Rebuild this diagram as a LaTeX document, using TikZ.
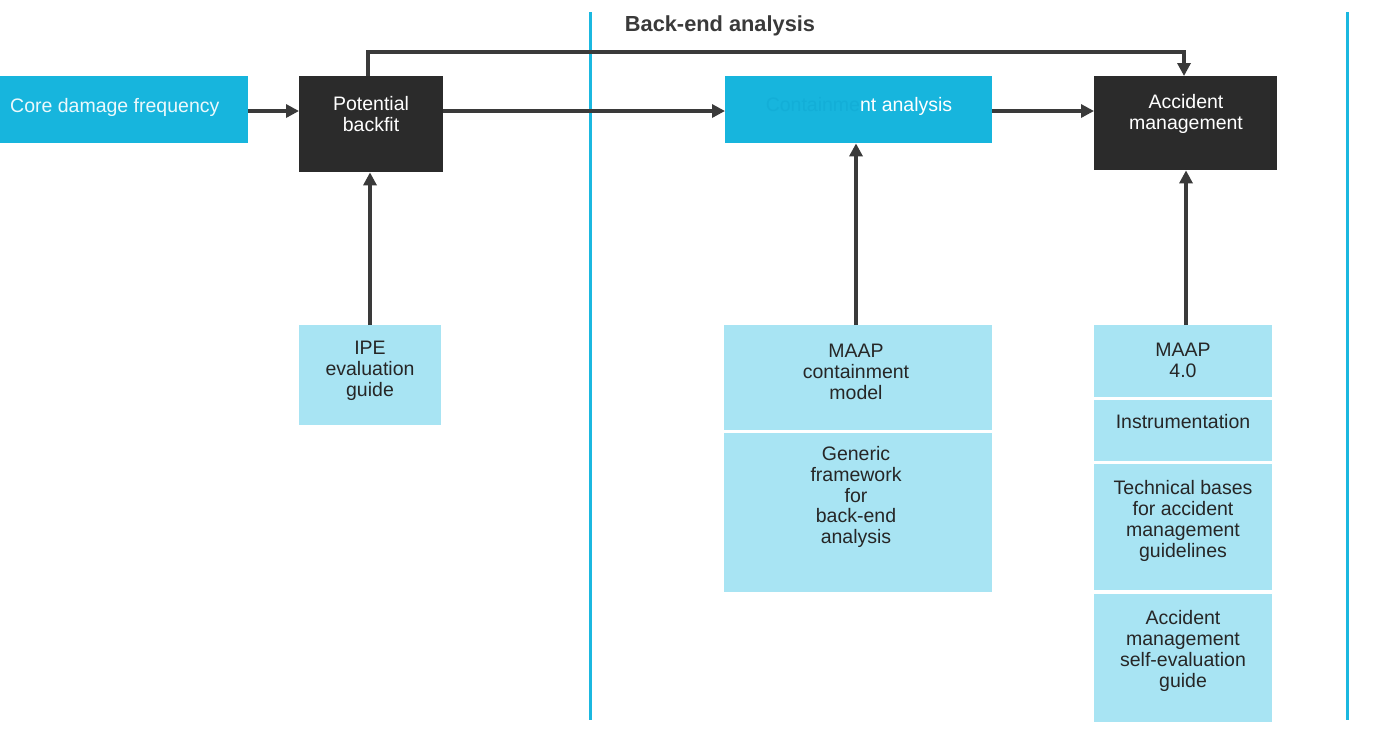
\documentclass[tikz,border=0pt]{standalone}
\usepackage{fontspec}
\setmainfont{Liberation Sans}
\usetikzlibrary{arrows.meta}
\definecolor{cyanbox}{HTML}{17B5DD}
\definecolor{paleblue}{HTML}{A8E4F3}
\definecolor{darkbox}{HTML}{2B2B2B}
\definecolor{wire}{HTML}{3A3A3A}
\definecolor{rule}{HTML}{1BB8E0}
\definecolor{fadedtext}{HTML}{13AED7}
\tikzset{
  x=1pt, y=-1pt,
  every node/.style={font=\fontsize{19.5}{20.8}\selectfont, align=center, inner sep=0pt},
  blockc/.style={fill=cyanbox, draw=none, text=white},
  blockd/.style={fill=darkbox, draw=none, text=white},
  blockp/.style={fill=paleblue, draw=none, text=black!85},
  txt/.style={text=black!85},
  flow/.style={draw=wire, line width=3.2pt, -{Triangle[length=13pt,width=13pt]}},
  divider/.style={draw=rule, line width=3pt},
}
\newcommand{\boxat}[6]{% name, style, x1, y1, x2, y2
  \node[#2, minimum width=#5-#3, minimum height=#6-#4, anchor=north west] (#1) at (#3,#4) {};}
\begin{document}
\begin{tikzpicture}
\fill[white] (0,0) rectangle (1396,748);
\useasboundingbox (0,0) rectangle (1396,748);

% section dividers and heading
\draw[divider] (590,12) -- (590,720);
\draw[divider] (1347,12) -- (1347,720);
\node[font=\fontsize{21.8}{23}\selectfont\bfseries, text=wire] (head) at (720,26) {Back-end analysis};

% top row blocks
\boxat{cdf}{blockc}{0}{76}{248}{143}
\node[text=white!92!cyanbox, anchor=west] (cdft) at (10,107) {Core damage frequency};
\boxat{pb}{blockd}{299}{76}{443}{172}
\node[text=white] (pbt) at (371,114) {Potential\\backfit};
\boxat{ca}{blockc}{725}{76}{992}{143}
\node (cat) at (859,106) {\textcolor{fadedtext}{Containme}\textcolor{white}{nt analysis}};
\boxat{am}{blockd}{1094}{76}{1277}{170}
\node[text=white] (amt) at (1186,114) {Accident\\management};

% supporting blocks
\boxat{ipe}{blockp}{299}{325}{441}{425}
\node[txt] (ipet) at (370,371) {IPE\\evaluation\\guide};
\boxat{maap}{blockp}{724}{325}{992}{430}
\node[txt] (maapt) at (856,372) {MAAP\\containment\\model};
\boxat{gen}{blockp}{724}{433}{992}{592}
\node[txt] (gent) at (856,497) {Generic\\framework\\for\\back-end\\analysis};
\boxat{m40}{blockp}{1094}{325}{1272}{397}
\node[txt] (m40t) at (1183,360) {MAAP\\4.0};
\boxat{ins}{blockp}{1094}{400}{1272}{461}
\node[txt] (inst) at (1183,422) {Instrumentation};
\boxat{tech}{blockp}{1094}{464}{1272}{590}
\node[txt] (techt) at (1183,521) {Technical bases\\for accident\\management\\guidelines};
\boxat{self}{blockp}{1094}{594}{1272}{722}
\node[txt] (selft) at (1183,651) {Accident\\management\\self-evaluation\\guide};

% connectors
\draw[flow] (cdf.east |- 0,111) -- (pb.west |- 0,111);
\draw[flow] (pb.east |- 0,111) -- (ca.west |- 0,111);
\draw[flow] (ca.east |- 0,111) -- (am.west |- 0,111);
\draw[flow] (pb.north -| 368,0) -- (368,52) -- (1184,52) -- (am.north -| 1184,0);
\draw[flow] (ipe.north -| 370,0) -- (pb.south -| 370,0);
\draw[flow] (maap.north -| 856,0) -- (ca.south -| 856,0);
\draw[flow] (m40.north -| 1186,0) -- (am.south -| 1186,0);
\end{tikzpicture}
\end{document}
